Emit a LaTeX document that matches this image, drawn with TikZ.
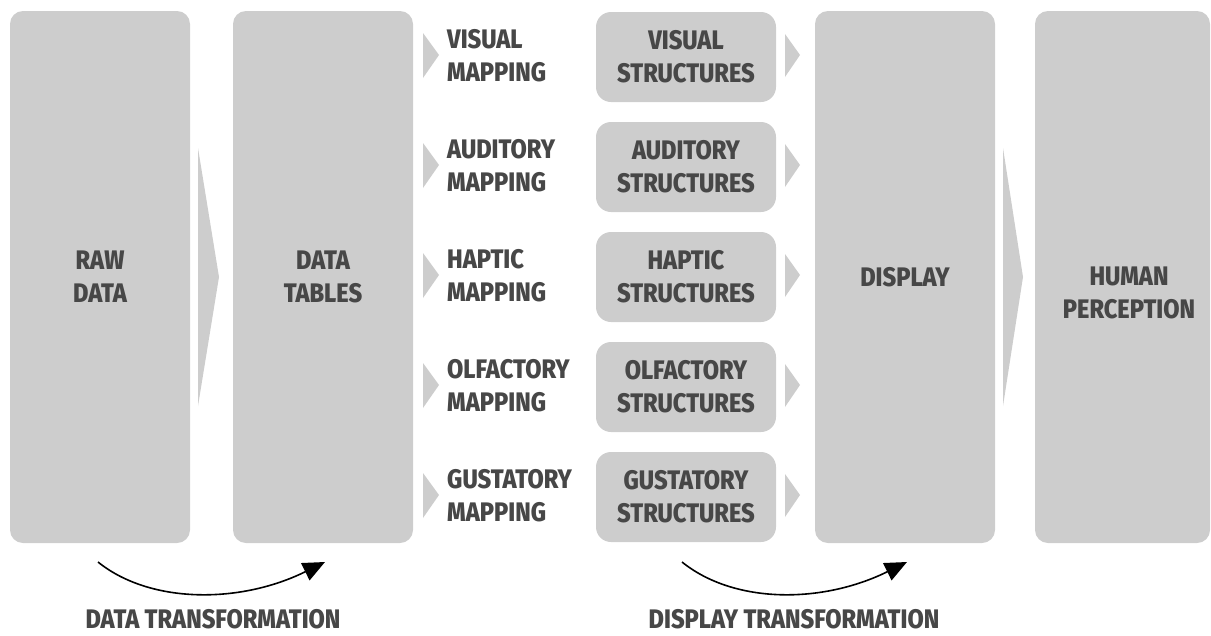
\documentclass[tikz,border=0pt]{standalone}
\usepackage{fontspec}
\setmainfont{Fira Sans}[UprightFont=* ExtraBold, FakeStretch=0.88]
\usetikzlibrary{arrows.meta}
\definecolor{boxgray}{HTML}{CDCDCD}
\definecolor{txtgray}{HTML}{474747}
\begin{document}
\begin{tikzpicture}[x=1pt,y=-1pt,
  lbl/.style={font=\fontsize{26.8}{33}\selectfont, text=txtgray, align=center, inner sep=0pt},
  bigbox/.style={lbl, fill=boxgray, rounded corners=13pt, minimum width=180pt, minimum height=532pt},
  strbox/.style={lbl, fill=boxgray, rounded corners=15pt, minimum width=180pt, minimum height=90pt},
  maplbl/.style={lbl, align=left, anchor=west},
  tri/.style={fill=boxgray},
  curvarrow/.style={black, line width=1.6pt, -{Triangle[length=22pt,width=19pt]}}
]
\useasboundingbox (0,0) rectangle (1211,635);

\node[bigbox] (raw) at (100,277) {RAW\\DATA};
\node[bigbox] (tables) at (323,277) {DATA\\TABLES};
\node[bigbox] (display) at (905,277) {DISPLAY};
\node[bigbox, minimum width=175pt] (human) at (1122.5,277) {};
\node[lbl] (humanlbl) at (1129,293) {HUMAN\\PERCEPTION};

% big chevrons
\fill[tri] (198,148) -- (219,277) -- (198,406) -- cycle;
\fill[tri] (1003,148) -- (1023,277) -- (1003,406) -- cycle;

\foreach \n/\name [count=\i from 0] in {vis/VISUAL, aud/AUDITORY, hap/HAPTIC, olf/OLFACTORY, gus/GUSTATORY}{
  \pgfmathsetmacro{\yc}{57+110*\i}
  \node[maplbl] (map\n) at (447,\yc-1) {\name\\MAPPING};
  \node[strbox] (str\n) at (686,\yc) {\name\\STRUCTURES};
  \fill[tri] (423,\yc-24) -- (439,\yc-2) -- (423,\yc+21) -- cycle;
  \fill[tri] (785,\yc-23) -- (800,\yc-2) -- (785,\yc+20) -- cycle;
}

% transformation arrows
\coordinate (dts) at (98,562);
\coordinate (dte) at (325,562);
\coordinate (dss) at (682,562);
\coordinate (dse) at (907,562);
\draw[curvarrow] (dts) .. controls (150,604) and (240,604) .. (dte);
\draw[curvarrow] (dss) .. controls (734,604) and (822,604) .. (dse);

\node[lbl] (dtlbl) at (213,619) {DATA TRANSFORMATION};
\node[lbl] (dslbl) at (794,619) {DISPLAY TRANSFORMATION};
\end{tikzpicture}
\end{document}
